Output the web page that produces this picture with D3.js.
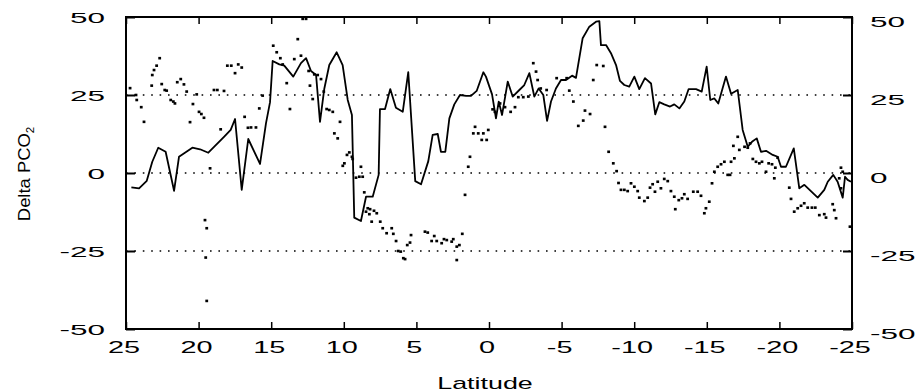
<!DOCTYPE html>
<html>
<head>
<meta charset="utf-8">
<script src="https://cdn.jsdelivr.net/npm/d3@7"></script>
<style>
  html, body { margin: 0; padding: 0; background: #fff; }
  svg { display: block; }
  text { font-family: "Liberation Sans", Arial, sans-serif; fill: #000; }
</style>
</head>
<body>
<svg id="chart" width="921" height="392"></svg>
<script>
// Axis ticks
const latTicks = [25, 20, 15, 10, 5, 0, -5, -10, -15, -20, -25];
const deltaTicks = [-50, -25, 0, 25, 50];
const gridLevels = [25, 0, -25];

// Continuous record (solid line)
const lineLat = [24.63,24.10,23.57,23.19,22.78,22.27,21.69,21.35,20.43,19.90,
  19.33,18.25,17.79,17.49,17.03,16.58,15.77,15.36,15.08,14.90,
  14.44,14.10,13.48,12.95,12.60,12.26,11.91,11.64,11.34,11.00,
  10.49,10.08,9.73,9.44,9.28,8.82,8.47,8.01,7.60,7.51,
  7.16,6.80,6.41,5.94,5.56,5.08,4.68,4.18,3.88,3.53,
  3.31,3.01,2.73,2.39,2.00,1.58,1.24,0.85,0.39,0.21,
  -0.21,-0.48,-0.67,-0.90,-1.29,-1.63,-2.09,-2.43,-2.78,-3.12,
  -3.42,-3.74,-4.00,-4.27,-4.61,-4.96,-5.30,-5.72,-5.99,-6.45,
  -6.91,-7.37,-7.60,-7.71,-8.06,-8.40,-8.75,-9.02,-9.32,-9.66,
  -10.01,-10.35,-10.74,-11.16,-11.45,-11.73,-12.07,-12.47,-12.76,-13.11,
  -13.45,-13.75,-14.26,-14.65,-14.99,-15.24,-15.52,-15.79,-16.32,-16.67,
  -17.13,-17.47,-17.82,-18.11,-18.44,-18.73,-19.08,-19.54,-19.88,-20.11,
  -20.45,-20.99,-21.37,-21.72,-22.64,-23.09,-23.33,-23.71,-24.01,-24.36,
  -24.52,-24.70,-24.93];
const lineDelta = [-4.6,-4.9,-2.5,3.6,8.1,6.8,-5.7,5.2,8.1,7.6,
  6.5,11.6,13.8,17.3,-5.4,10.9,2.9,15.9,22.7,35.9,
  34.8,34.4,30.9,35.2,36.8,32.7,31.4,16.4,27.1,34.6,
  38.7,34.6,23.4,18.6,-14.3,-15.4,-7.6,-7.6,-0.6,20.5,
  20.5,26.9,20.9,19.6,32.3,-2.6,-3.6,3.8,12.2,12.5,
  6.8,6.8,17.5,22.0,25.0,24.7,24.7,26.3,32.3,30.9,
  25.2,17.5,22.9,18.6,29.3,24.5,26.6,28.2,32.0,24.5,
  27.1,25.0,16.7,22.9,27.1,29.8,29.8,31.2,30.5,43.2,
  46.9,48.5,48.7,41.0,41.0,38.4,34.6,29.5,28.2,27.7,
  30.9,26.9,30.4,28.7,18.8,22.7,22.0,21.3,22.0,20.7,
  22.9,26.9,26.9,26.1,34.1,23.4,23.9,22.3,30.9,25.4,
  26.6,13.8,8.4,10.0,11.1,6.8,7.1,5.8,5.2,2.0,
  2.0,7.9,-4.9,-3.8,-7.9,-5.4,-2.8,-0.6,-2.8,-7.9,
  -1.2,-2.2,-2.8];

// Discrete samples (dots)
const dotLat = [24.72,24.31,24.26,23.95,23.76,23.23,23.19,23.07,22.89,22.68,
  22.54,22.33,22.20,21.92,21.74,21.63,21.47,21.23,21.01,20.82,
  20.59,20.39,20.13,19.97,19.81,19.63,19.21,19.56,19.44,19.51,
  19.44,18.94,18.71,18.25,18.48,18.02,17.75,17.49,17.27,17.03,
  16.83,16.60,16.39,16.05,15.82,15.59,14.86,14.62,14.37,14.21,
  13.93,13.71,13.41,13.17,12.95,12.83,12.60,12.42,12.33,12.14,
  12.03,11.80,11.57,11.38,11.18,11.00,10.76,10.65,10.42,10.26,
  10.07,9.96,9.78,9.62,9.44,9.39,9.16,8.93,8.82,8.70,
  8.59,8.35,8.24,8.47,8.19,7.92,7.73,8.08,7.49,7.32,
  7.05,6.70,6.59,6.40,6.25,6.08,5.90,5.78,5.63,5.44,5.37,
  4.41,4.22,3.95,3.77,3.60,3.26,3.10,2.91,2.57,2.46,
  2.22,2.04,2.22,1.84,1.65,1.43,1.31,0.96,1.08,0.74,
  0.39,0.50,0.16,0.05,-0.25,-0.41,-0.76,-1.10,-1.49,-1.79,
  -2.02,-2.36,-2.71,-3.05,-3.24,-3.35,-3.56,-3.97,-4.66,-5.35,
  -5.53,-5.81,-6.15,-6.49,-6.61,-6.96,-7.18,-7.42,-7.87,-7.99,
  -8.24,-8.56,-8.79,-8.92,-9.09,-9.32,-9.55,-9.78,-10.01,-10.24,
  -10.35,-10.70,-10.93,-11.09,-11.27,-11.43,-11.62,-11.84,-12.07,-12.31,
  -12.53,-12.76,-12.83,-13.07,-13.29,-13.45,-13.68,-14.07,-14.37,-14.60,
  -14.83,-14.94,-15.17,-15.36,-15.52,-15.75,-15.98,-16.21,-16.60,-16.67,
  -16.44,-16.90,-17.24,-17.13,-16.83,-17.60,-17.82,-17.98,-18.17,-18.39,
  -18.62,-18.80,-19.08,-19.26,-19.49,-19.72,-19.88,-19.65,-20.68,-20.80,
  -21.02,-21.26,-21.49,-21.71,-21.95,-22.24,-22.47,-22.75,-23.09,-23.21,
  -23.67,-23.78,-23.90,-24.12,-24.24,-24.36,-24.24,-24.86];
const dotDelta = [27.2,25.0,23.4,21.1,16.4,28.0,31.4,33.0,34.4,36.8,
  28.5,26.6,26.4,23.4,22.9,22.3,29.1,30.1,28.4,26.1,
  16.3,22.1,25.2,19.6,18.9,17.7,1.5,-15.1,-17.7,-27.1,
  -41.0,26.6,26.6,26.3,14.0,34.4,34.4,32.0,34.8,33.8,
  18.0,14.5,14.6,14.6,20.7,24.8,40.8,38.7,36.8,34.8,
  28.8,20.5,36.5,42.9,37.6,49.4,49.4,32.7,28.0,23.7,
  31.6,31.4,30.1,26.1,20.5,20.2,19.6,12.7,11.1,16.4,
  2.3,3.1,5.8,6.6,5.2,4.5,-1.5,-1.2,2.0,-1.2,
  -6.2,-11.3,-13.2,-12.4,-11.6,-12.1,-12.9,-15.6,-15.6,-17.7,
  -19.3,-17.7,-19.5,-21.8,-25.0,-25.2,-27.3,-27.6,-23.1,-22.3,-19.9,
  -18.8,-19.1,-21.8,-20.2,-21.8,-22.5,-21.2,-21.5,-22.0,-21.2,
  -23.6,-23.1,-27.9,-19.5,-7.0,2.0,5.2,14.8,12.7,12.7,
  12.7,10.6,10.6,13.8,20.4,19.6,22.3,21.1,19.6,21.1,
  24.3,24.3,24.5,35.2,32.5,29.8,27.1,26.6,30.4,30.4,
  26.4,22.9,15.1,16.8,20.0,18.9,29.8,34.6,34.3,14.8,
  6.8,3.1,0.6,-3.2,-5.4,-5.4,-5.8,-3.3,-4.4,-5.8,
  -7.9,-9.0,-7.9,-4.7,-3.6,-6.0,-2.8,-4.9,-1.9,-2.6,
  -5.8,-7.6,-11.6,-8.7,-8.1,-6.8,-8.3,-6.0,-6.0,-7.3,
  -12.9,-11.3,-9.2,-3.3,0.4,2.0,2.8,3.6,-0.6,3.6,
  -0.6,4.7,7.4,11.6,8.7,8.4,8.1,9.5,4.5,3.6,
  3.1,3.6,0.4,3.1,2.8,1.7,4.9,-1.7,-4.7,-8.3,
  -12.4,-11.3,-10.5,-9.7,-11.1,-11.1,-11.1,-13.5,-13.2,-14.3,
  -10.0,-11.9,-14.5,-1.7,1.7,0.4,-4.9,-17.2];

const svg = d3.select("#chart");
const plot = { left: 126, right: 852, top: 17, bottom: 329 };

const x = d3.scaleLinear().domain([25, -25]).range([plot.left, plot.right]);
const y = d3.scaleLinear().domain([-50, 50]).range([plot.bottom, plot.top]);

const fmt = v => String(v); // plain hyphen-minus, as on the printed axes

// Dotted reference levels
svg.append("g")
  .selectAll("line")
  .data(gridLevels)
  .join("line")
  .attr("x1", plot.left).attr("x2", plot.right)
  .attr("y1", d => y(d)).attr("y2", d => y(d))
  .attr("stroke", "#000")
  .attr("stroke-width", 1.6)
  .attr("stroke-dasharray", "1.6,6.8");

// Continuous record
const lineData = d3.zip(lineLat, lineDelta);
svg.append("path")
  .datum(lineData)
  .attr("fill", "none")
  .attr("stroke", "#000")
  .attr("stroke-width", 1.8)
  .attr("stroke-linejoin", "round")
  .attr("d", d3.line().x(d => x(d[0])).y(d => y(d[1])));

// Discrete samples
const dotData = d3.zip(dotLat, dotDelta);
svg.append("g")
  .selectAll("rect")
  .data(dotData)
  .join("rect")
  .attr("x", d => x(d[0]) - 1.4)
  .attr("y", d => y(d[1]) - 1.3)
  .attr("width", 2.8)
  .attr("height", 2.6)
  .attr("fill", "#000");

// Inward ticks on all four sides
const tickLen = 7;
const bottomAxis = d3.axisBottom(x).tickValues(latTicks).tickSize(-tickLen).tickFormat("");
const topAxis = d3.axisTop(x).tickValues(latTicks).tickSize(-tickLen).tickFormat("");
const leftAxis = d3.axisLeft(y).tickValues(deltaTicks).tickSize(-9).tickFormat("");
const rightAxis = d3.axisRight(y).tickValues(deltaTicks).tickSize(-9).tickFormat("");

function styleAxis(g, w) {
  g.select(".domain").remove();
  g.selectAll(".tick line").attr("stroke", "#000").attr("stroke-width", w);
}
svg.append("g").attr("transform", `translate(0,${plot.bottom})`).call(bottomAxis).call(g => styleAxis(g, 1.5));
svg.append("g").attr("transform", `translate(0,${plot.top})`).call(topAxis).call(g => styleAxis(g, 1.5));
svg.append("g").attr("transform", `translate(${plot.left},0)`).call(leftAxis).call(g => styleAxis(g, 2));
svg.append("g").attr("transform", `translate(${plot.right},0)`).call(rightAxis).call(g => styleAxis(g, 2));

// Frame
svg.append("rect")
  .attr("x", plot.left).attr("y", plot.top)
  .attr("width", plot.right - plot.left)
  .attr("height", plot.bottom - plot.top)
  .attr("fill", "none")
  .attr("stroke", "#000")
  .attr("stroke-width", 2);

// Wide-set tick labels
svg.append("g")
  .selectAll("text")
  .data(latTicks)
  .join("text")
  .attr("transform", d => `translate(${x(d) - 2},353) scale(1.7,1)`)
  .attr("text-anchor", "middle")
  .attr("font-size", 17)
  .text(fmt);

svg.append("g")
  .selectAll("text")
  .data(deltaTicks)
  .join("text")
  .attr("transform", d => `translate(105,${y(d) + 5.5}) scale(2.1,1)`)
  .attr("text-anchor", "end")
  .attr("font-size", 15)
  .text(fmt);

svg.append("g")
  .selectAll("text")
  .data(deltaTicks)
  .join("text")
  .attr("transform", d => `translate(870,${y(d) + 9.5}) scale(2.1,1)`)
  .attr("text-anchor", "start")
  .attr("font-size", 15)
  .text(fmt);

// Axis titles
svg.append("text")
  .attr("transform", "translate(485,389) scale(1.58,1)")
  .attr("text-anchor", "middle")
  .attr("font-size", 17)
  .text("Latitude");

const yTitle = svg.append("text")
  .attr("transform", "translate(30,174) rotate(-90) scale(1.15,1)")
  .attr("text-anchor", "middle")
  .attr("font-size", 16);
yTitle.append("tspan").text("Delta PCO");
yTitle.append("tspan").attr("font-size", 10).attr("dy", 4).text("2");
</script>
</body>
</html>
